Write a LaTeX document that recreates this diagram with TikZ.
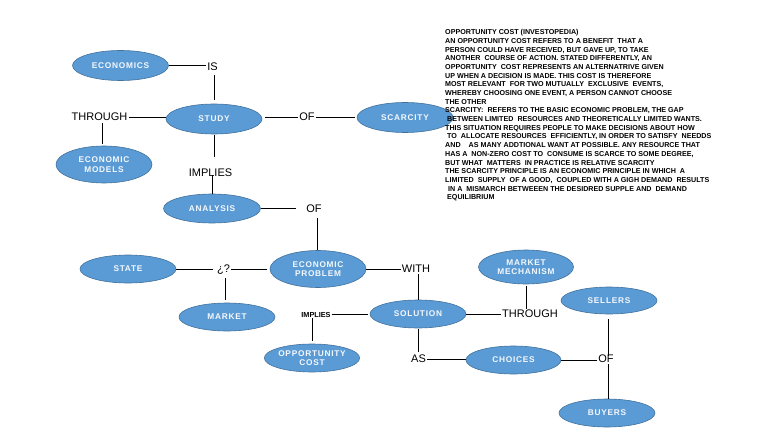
\documentclass[tikz,border=0pt]{standalone}
\usepackage{fontspec}
\setmainfont{Liberation Sans}
\newfontfamily\ellfont[LetterSpace=9]{Liberation Sans}
\usetikzlibrary{shapes.geometric}
\definecolor{ellfill}{HTML}{5B9BD5}
\definecolor{elldraw}{HTML}{41719C}
\definecolor{elltext}{HTML}{F4F8FC}
\tikzset{
  ell/.style={ellipse, draw=elldraw, fill=ellfill, line width=0.6pt,
    minimum width=96pt, minimum height=28pt, inner sep=0pt, text=elltext,
    font=\ellfont\bfseries\fontsize{8.3}{9.6}\selectfont, align=center},
  lab/.style={font=\fontsize{11}{13}\selectfont, inner sep=1pt},
  smalllab/.style={font=\bfseries\fontsize{7.3}{8.6}\selectfont, inner sep=1pt},
  conn/.style={line width=0.8pt, black},
  txt/.style={anchor=base west, inner sep=0pt, font=\bfseries\fontsize{7.15}{8.7}\selectfont}
}
\begin{document}
\begin{tikzpicture}[x=1pt,y=-1pt]
\useasboundingbox (0,0) rectangle (768,433);
\fill[white] (0,0) rectangle (768,433);

% ellipses
\node[ell, minimum height=30pt] (econ) at (120.5,65.5) {ECONOMICS};
\node[ell, minimum height=30pt] (study) at (214,119) {STUDY};
\node[ell, minimum height=37pt] (models) at (104,164.5) {ECONOMIC\\MODELS};
\node[ell, minimum height=30pt] (scarcity) at (405,117.5) {SCARCITY};
\node[ell, minimum width=97pt, minimum height=29pt] (analysis) at (212,208.5) {ANALYSIS};
\node[ell, minimum height=37pt] (ep) at (318,269) {ECONOMIC\\PROBLEM};
\node[ell] (state) at (128,269) {STATE};
\node[ell] (market) at (227,317) {MARKET};
\node[ell] (solution) at (418,314) {SOLUTION};
\node[ell, minimum width=95pt] (opp) at (312,358) {OPPORTUNITY\\COST};
\node[ell, minimum width=95pt, minimum height=34pt] (mm) at (526,267) {MARKET\\MECHANISM};
\node[ell, minimum width=95pt] (choices) at (513.5,360) {CHOICES};
\node[ell, minimum height=27pt] (sellers) at (609,300.5) {SELLERS};
\node[ell] (buyers) at (607,413) {BUYERS};

% labels
\node[lab] (is) at (212.5,66.5) {IS};
\node[lab] (thr1) at (99.5,117) {THROUGH};
\node[lab] (of1) at (307,117) {OF};
\node[lab] (impl1) at (210.5,172.5) {IMPLIES};
\node[lab] (of2) at (314,208.5) {OF};
\node[lab] (q) at (223.5,270) {¿?};
\node[lab] (with) at (416,269) {WITH};
\node[smalllab] (impl2) at (316,314.5) {IMPLIES};
\node[lab] (thr2) at (530,314) {THROUGH};
\node[lab] (as) at (418.5,359) {AS};
\node[lab] (of3) at (606,359) {OF};

% connectors
\draw[conn] (econ.east) -- (econ.east -| is.west);
\draw[conn, shorten <=3pt, shorten >=4pt] (is.south -| study.north) -- (study.north);
\draw[conn] (thr1.east) -- (thr1.east -| study.west);
\draw[conn, shorten <=1pt, shorten >=2pt] ([xshift=3pt]thr1.south) -- ([xshift=3pt]thr1.south |- models.north);
\draw[conn, shorten <=3pt] (study.east |- of1.west) -- (of1.west);
\draw[conn, shorten >=2pt] (of1.east) -- (of1.east -| scarcity.west);
\draw[conn, shorten <=1pt, shorten >=10pt] (study.south) -- (study.south |- impl1.north);
\draw[conn, shorten >=-3pt] (analysis.north) -- (analysis.north |- impl1.south);
\draw[conn, shorten >=9pt] (analysis.east) -- (analysis.east -| of2.west);
\draw[conn, shorten <=4pt] ([xshift=-1pt]ep.north |- of2.south) -- ([xshift=-1pt]ep.north);
\draw[conn, shorten >=3pt] (state.east) -- (state.east -| q.west);
\draw[conn, shorten >=2.5pt] (q.east |- ep.west) -- (ep.west);
\draw[conn, shorten <=2pt, shorten >=3pt] ([xshift=2pt]q.south) -- ([xshift=2pt]q.south |- market.north);
\draw[conn] (ep.east) -- (ep.east -| with.west);
\draw[conn] (with.south -| solution.north) -- (solution.north);
\draw[conn, shorten >=2pt] (impl2.east) -- (impl2.east -| solution.west);
\draw[conn, shorten >=2.5pt] (impl2.south -| opp.north) -- (opp.north);
\draw[conn] (solution.east) -- (solution.east -| thr2.west);
\draw[conn, shorten <=1.5pt] ([xshift=0.7pt]mm.south) -- ([xshift=0.7pt]mm.south |- thr2.north);
\draw[conn, shorten <=1pt, shorten >=2pt] (solution.south) -- (solution.south |- as.north);
\draw[conn] (as.east) -- (as.east -| choices.west);
\draw[conn] (choices.east) -- (choices.east -| of3.west);
\draw[conn, shorten <=5pt, shorten >=-2pt] ([xshift=-1pt]sellers.south) -- ([xshift=-1pt]sellers.south |- of3.north);
\draw[conn] ([xshift=-1pt]sellers.south |- of3.south) -- ([xshift=-1pt]sellers.south |- buyers.north);

% text block
\node[txt] (t1) at (445,34.8) {OPPORTUNITY COST (INVESTOPEDIA)};
\node[txt] (t2) at (445,43.5) {AN OPPORTUNITY COST REFERS TO A BENEFIT\ \ THAT A};
\node[txt] (t3) at (445,52.2) {PERSON COULD HAVE RECEIVED, BUT GAVE UP, TO TAKE};
\node[txt] (t4) at (445,60.8) {ANOTHER\ \ COURSE OF ACTION. STATED DIFFERENTLY, AN};
\node[txt] (t5) at (445,69.5) {OPPORTUNITY\ \ COST REPRESENTS AN ALTERNATRIVE GIVEN};
\node[txt] (t6) at (445,78.2) {UP WHEN A DECISION IS MADE. THIS COST IS THEREFORE};
\node[txt] (t7) at (445,86.9) {MOST RELEVANT\ \ FOR TWO MUTUALLY\ \ EXCLUSIVE\ \ EVENTS,};
\node[txt] (t8) at (445,95.6) {WHEREBY CHOOSING ONE EVENT, A PERSON CANNOT CHOOSE};
\node[txt] (t9) at (445,104.2) {THE OTHER};
\node[txt] (t10) at (445,112.9) {SCARCITY:\ \ REFERS TO THE BASIC ECONOMIC PROBLEM, THE GAP};
\node[txt] (t11) at (447,121.6) {BETWEEN LIMITED\ \ RESOURCES AND THEORETICALLY LIMITED WANTS.};
\node[txt] (t12) at (445,130.3) {THIS SITUATION REQUIRES PEOPLE TO MAKE DECISIONS ABOUT HOW};
\node[txt] (t13) at (447,138.9) {TO\ \ ALLOCATE RESOURCES\ \ EFFICIENTLY, IN ORDER TO SATISFY\ \ NEEDDS};
\node[txt] (t14) at (445,147.6) {AND\ \ \ \ AS MANY ADDTIONAL WANT AT POSSIBLE. ANY RESOURCE THAT};
\node[txt] (t15) at (445,156.3) {HAS A\ \ NON-ZERO COST TO\ \ CONSUME IS SCARCE TO SOME DEGREE,};
\node[txt] (t16) at (445,165.0) {BUT WHAT\ \ MATTERS\ \ IN PRACTICE IS RELATIVE SCARCITY};
\node[txt] (t17) at (445,173.7) {THE SCARCITY PRINCIPLE IS AN ECONOMIC PRINCIPLE IN WHICH\ \ A};
\node[txt] (t18) at (445,182.3) {LIMITED\ \ SUPPLY\ \ OF A GOOD,\ \ COUPLED WITH A GIGH DEMAND\ \ RESULTS};
\node[txt] (t19) at (448,191.0) {IN A\ \ MISMARCH BETWEEEN THE DESIDRED SUPPLE AND\ \ DEMAND};
\node[txt] (t20) at (447,199.7) {EQUILIBRIUM};
\end{tikzpicture}
\end{document}
